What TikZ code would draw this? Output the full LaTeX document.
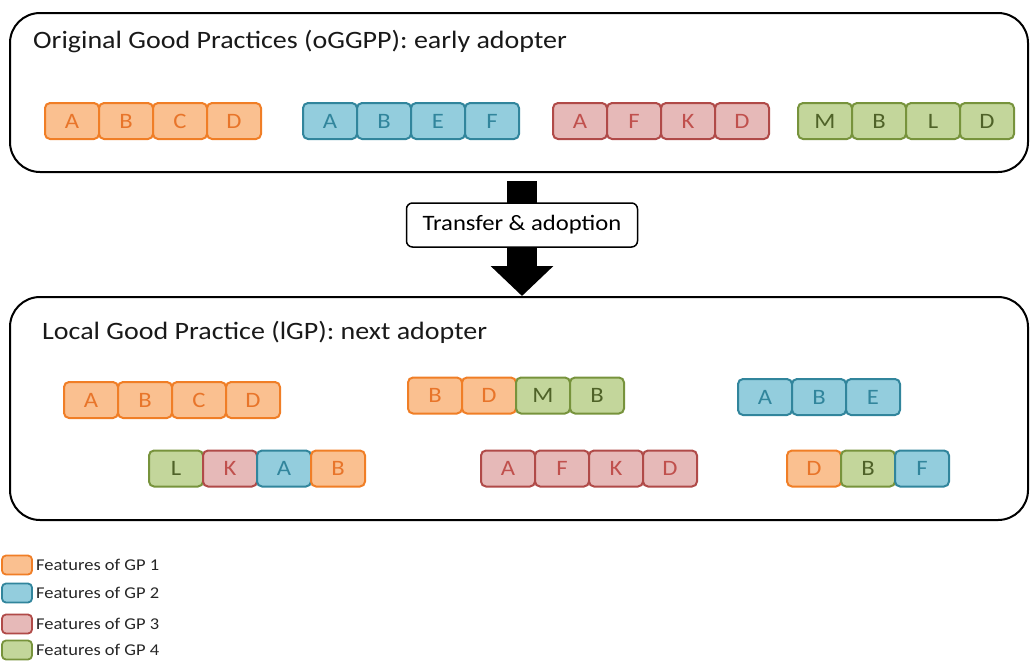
\documentclass[tikz,border=0pt]{standalone}
\usepackage{fontspec}
\setmainfont{Carlito}[FakeStretch=1.12]
\usetikzlibrary{arrows.meta}

\definecolor{gp1fill}{HTML}{FAC090}
\definecolor{gp1line}{HTML}{F07E26}
\definecolor{gp1text}{HTML}{E8752A}
\definecolor{gp2fill}{HTML}{93CDDD}
\definecolor{gp2line}{HTML}{31859C}
\definecolor{gp2text}{HTML}{31859C}
\definecolor{gp3fill}{HTML}{E6B9B8}
\definecolor{gp3line}{HTML}{B04A48}
\definecolor{gp3text}{HTML}{C0504D}
\definecolor{gp4fill}{HTML}{C3D69B}
\definecolor{gp4line}{HTML}{77933C}
\definecolor{gp4text}{HTML}{4F6228}

\tikzset{
  cell/.style={draw=#1line, fill=#1fill, text=#1text, line width=2pt,
    rounded corners=5pt, minimum width=54pt, minimum height=36pt,
    inner sep=0pt, font=\fontsize{22}{24}\selectfont},
  adopter/.style={draw, line width=2pt, rounded corners=30pt,
    minimum width=1018pt, inner sep=0pt},
  title/.style={anchor=west, inner sep=0pt, text=black!90,
    font=\fontsize{25}{28}\selectfont},
  legend/.style={anchor=west, inner sep=0pt, text=black!85,
    font=\fontsize{16.5}{18}\selectfont}
}

% one practice: a row of feature cells
\newcommand{\gprow}[4]{%
  \foreach \s/\t [count=\i from 0] in {#4}
    \node[cell=\s, anchor=west] (#1-\i) at ({#2+54*\i},#3) {\t};}

\begin{document}
\begin{tikzpicture}[x=1pt, y=-1pt]
	\useasboundingbox (0,0) rectangle (1030,662);
	% the two adopters
	\node[adopter, minimum height=159pt] (orig) at (519,92.5) {};
	\node[adopter, minimum height=223pt] (local) at (519,408.5) {};
	\node[title] (origtitle) at (33,42) {Original Good Practices (oGGPP): early adopter};
	\node[title] (localtitle) at (42,332) {Local Good Practice (lGP): next adopter};

	% early adopter
	\gprow{oa}{44}{121}{gp1/A,gp1/B,gp1/C,gp1/D}
	\gprow{ob}{302}{121}{gp2/A,gp2/B,gp2/E,gp2/F}
	\gprow{oc}{552}{121}{gp3/A,gp3/F,gp3/K,gp3/D}
	\gprow{od}{797}{121}{gp4/M,gp4/B,gp4/L,gp4/D}

	% next adopter
	\gprow{la}{63}{400}{gp1/A,gp1/B,gp1/C,gp1/D}
	\gprow{lb}{407}{395.5}{gp1/B,gp1/D,gp4/M,gp4/B}
	\gprow{lc}{737}{397}{gp2/A,gp2/B,gp2/E}
	\gprow{ld}{148}{468.5}{gp4/L,gp3/K,gp2/A,gp1/B}
	\gprow{le}{480}{468.5}{gp3/A,gp3/F,gp3/K,gp3/D}
	\gprow{lf}{786}{468.5}{gp1/D,gp4/B,gp2/F}

	% transfer
	\draw[line width=30pt, -{Triangle[width=61pt, length=30pt]}]
		([yshift=-8pt]orig.south -| 522,0) -- (local.north -| 522,0);
	\node[draw, fill=white, line width=1.5pt, rounded corners=6pt,
		minimum width=231pt, minimum height=44pt,
		font=\fontsize{22}{24}\selectfont] (transfer) at (522,225) {Transfer \& adoption};

	% legend
	\foreach \k/\y in {1/565, 2/593, 3/624, 4/650} {
		\node[cell=gp\k, minimum width=30pt, minimum height=19pt, rounded corners=4pt,
			line width=1.8pt] (key\k) at (17,\y) {};
		\node[legend] (keytext\k) at ([xshift=3pt]key\k.east) {Features of GP \k};
	}
\end{tikzpicture}
\end{document}
